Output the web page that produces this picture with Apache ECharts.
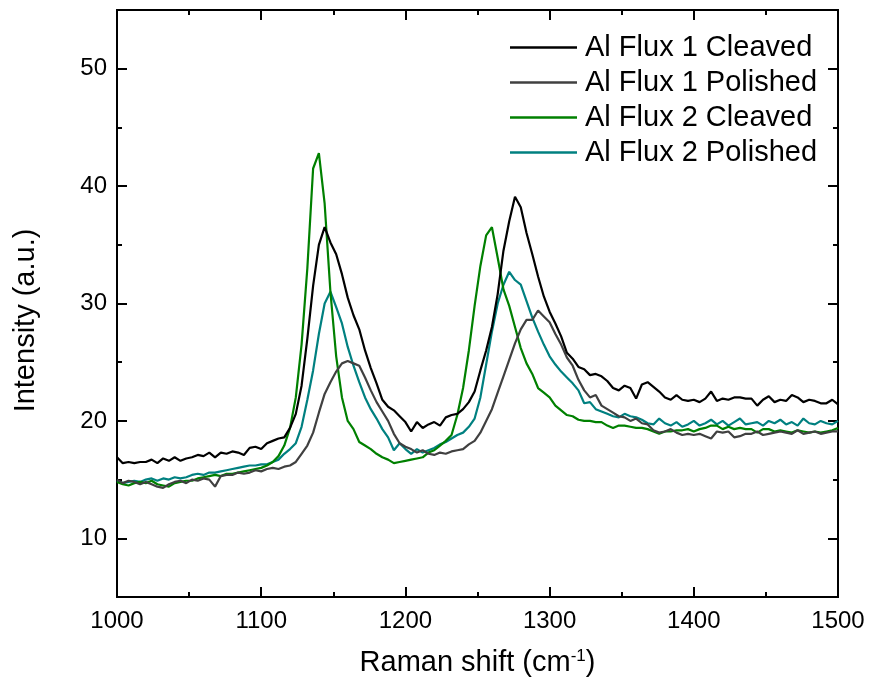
<!DOCTYPE html>
<html>
<head>
<meta charset="utf-8">
<script src="https://cdn.jsdelivr.net/npm/echarts@6/dist/echarts.min.js"></script>
<style>
  html, body { margin: 0; padding: 0; background: #fff; }
  #chart { width: 870px; height: 687px; }
</style>
</head>
<body>
<div id="chart"></div>
<script>
// Raman shift sampling positions (cm^-1)
const ramanShift = [
  1000, 1004, 1008, 1012, 1016, 1020, 1024, 1028, 1032, 1036,
  1040, 1044, 1048, 1052, 1056, 1060, 1064, 1068, 1072, 1076,
  1080, 1084, 1088, 1092, 1096, 1100, 1104, 1108, 1112, 1116,
  1120, 1124, 1128, 1132, 1136, 1140, 1144, 1148, 1152, 1156,
  1160, 1164, 1168, 1172, 1176, 1180, 1184, 1188, 1192, 1196,
  1200, 1204, 1208, 1212, 1216, 1220, 1224, 1228, 1232, 1236,
  1240, 1244, 1248, 1252, 1256, 1260, 1264, 1268, 1272, 1276,
  1280, 1284, 1288, 1292, 1296, 1300, 1304, 1308, 1312, 1316,
  1320, 1324, 1328, 1332, 1336, 1340, 1344, 1348, 1352, 1356,
  1360, 1364, 1368, 1372, 1376, 1380, 1384, 1388, 1392, 1396,
  1400, 1404, 1408, 1412, 1416, 1420, 1424, 1428, 1432, 1436,
  1440, 1444, 1448, 1452, 1456, 1460, 1464, 1468, 1472, 1476,
  1480, 1484, 1488, 1492, 1496, 1500
];

// Intensity (a.u.) for each sample
const flux1Cleaved = [
  16.9, 16.4, 16.5, 16.4, 16.5, 16.5, 16.7, 16.4, 16.8, 16.6,
  16.9, 16.6, 16.8, 16.9, 17.1, 17.0, 17.3, 16.9, 17.3, 17.2,
  17.4, 17.3, 17.1, 17.7, 17.8, 17.6, 18.1, 18.3, 18.5, 18.6,
  19.4, 20.6, 23.0, 27.0, 31.5, 35.0, 36.5, 35.2, 34.2, 32.5,
  30.5, 29.0, 27.8, 26.0, 24.5, 23.2, 21.8, 21.2, 20.9, 20.4,
  19.9, 19.1, 19.9, 19.4, 19.7, 19.9, 19.6, 20.3, 20.5, 20.6,
  21.0, 21.6, 22.5, 24.3, 26.0, 28.0, 30.8, 34.5, 37.0, 39.1,
  38.2, 36.0, 34.2, 32.3, 30.6, 29.3, 28.3, 27.2, 25.8, 25.3,
  24.6, 24.4, 23.9, 24.0, 23.8, 23.4, 22.8, 22.6, 23.0, 22.8,
  21.9, 23.1, 23.3, 22.9, 22.5, 22.0, 21.8, 22.2, 21.8, 21.7,
  21.8, 21.6, 21.9, 22.5, 21.7, 21.9, 21.8, 22.0, 22.0, 21.9,
  21.9, 21.3, 21.8, 22.1, 21.6, 21.8, 21.7, 22.2, 22.0, 21.6,
  21.8, 21.7, 21.5, 21.5, 21.8, 21.4
];

const flux1Polished = [
  15.0, 14.7, 14.9, 14.8, 14.6, 14.8, 14.6, 14.4, 14.3, 14.6,
  14.8, 14.9, 14.7, 15.0, 14.9, 15.1, 15.0, 14.4, 15.3, 15.4,
  15.4, 15.6, 15.5, 15.6, 15.8, 15.7, 15.9, 16.0, 15.9, 16.1,
  16.2, 16.5, 17.2, 17.9, 19.0, 20.7, 22.3, 23.3, 24.2, 24.9,
  25.1, 24.9, 24.7, 23.7, 22.6, 21.6, 20.8, 20.0, 18.9, 18.1,
  17.8, 17.6, 17.3, 17.5, 17.2, 17.1, 17.3, 17.2, 17.4, 17.5,
  17.6, 18.0, 18.3, 19.0, 20.0, 21.0, 22.4, 23.8, 25.2, 26.6,
  27.8, 28.6, 28.6, 29.4, 28.9, 28.4, 27.4, 26.5, 25.4, 24.7,
  23.5, 22.6, 22.0, 22.2, 21.3, 21.0, 20.7, 20.4, 20.3, 20.0,
  20.2, 19.8, 19.7, 19.2, 19.0, 19.1, 19.3, 19.0, 18.8, 18.9,
  18.8, 18.9, 18.7, 18.5, 19.1, 19.0, 19.1, 18.6, 18.7, 18.9,
  18.9, 19.1, 18.8, 18.9, 19.0, 19.1, 19.0, 18.9, 19.2, 18.9,
  19.0, 19.1, 18.9, 19.0, 19.1, 19.1
];

const flux2Cleaved = [
  14.8, 14.6, 14.5, 14.7, 14.8, 14.7, 14.9, 14.6, 14.5, 14.4,
  14.7, 14.8, 14.9, 14.9, 15.1, 15.2, 15.3, 15.4, 15.3, 15.5,
  15.5, 15.6, 15.7, 15.8, 15.9, 16.0, 16.2, 16.5, 17.0, 17.9,
  19.4, 22.0, 26.5, 33.0, 41.5, 42.8, 38.5, 31.0, 25.5, 22.0,
  20.0, 19.3, 18.2, 17.9, 17.6, 17.2, 16.9, 16.7, 16.4, 16.5,
  16.6, 16.7, 16.8, 16.9, 17.3, 17.5, 17.9, 18.3, 18.8, 20.5,
  22.8, 26.0, 29.8, 33.2, 35.8, 36.5, 33.9, 31.2, 29.8, 28.0,
  26.2, 24.9, 24.0, 22.8, 22.4, 22.0, 21.3, 20.9, 20.5, 20.4,
  20.1, 20.0, 20.0, 19.9, 19.9, 19.6, 19.4, 19.6, 19.6, 19.5,
  19.4, 19.4, 19.3, 19.1, 18.9, 19.1, 19.1, 19.2, 19.2, 19.3,
  19.1, 19.3, 19.4, 19.6, 19.6, 19.3, 19.5, 19.3, 19.4, 19.3,
  19.3, 19.0, 19.3, 19.3, 19.1, 19.2, 19.1, 19.0, 19.2, 19.1,
  19.0, 19.1, 19.0, 19.1, 19.2, 19.4
];

const flux2Polished = [
  14.9, 14.7, 14.8, 14.9, 14.8, 15.0, 15.1, 14.9, 15.1, 15.0,
  15.2, 15.1, 15.2, 15.4, 15.5, 15.4, 15.6, 15.6, 15.7, 15.8,
  15.9, 16.0, 16.1, 16.2, 16.2, 16.3, 16.3, 16.5, 16.7, 17.2,
  17.6, 18.1, 19.5, 21.8, 24.3, 27.4, 30.0, 31.0, 29.7, 28.3,
  26.3, 24.7, 23.3, 22.0, 21.0, 20.2, 19.3, 18.6, 17.5, 18.1,
  17.6, 17.2, 17.6, 17.3, 17.5, 17.7, 18.0, 18.2, 18.5, 18.8,
  19.0, 19.5, 20.2, 22.0, 24.8, 27.6, 30.0, 31.6, 32.7, 32.0,
  31.6, 30.2, 28.8, 27.6, 26.5, 25.5, 24.8, 24.2, 23.7, 23.2,
  22.6, 21.5, 21.6, 21.0, 20.8, 20.6, 20.4, 20.3, 20.6, 20.4,
  20.3, 20.1, 19.8, 19.7, 20.2, 19.8, 19.6, 19.9, 19.5, 19.7,
  20.0, 19.6, 19.8, 20.1, 19.7, 20.0, 19.6, 19.9, 20.2, 19.7,
  19.8, 19.9, 19.6, 20.0, 19.8, 20.1, 19.7, 19.9, 19.6, 20.2,
  19.8, 19.7, 20.0, 19.8, 19.7, 20.0
];

const seriesNames = ['Al Flux 1 Cleaved', 'Al Flux 1 Polished', 'Al Flux 2 Cleaved', 'Al Flux 2 Polished'];
const seriesValues = [flux1Cleaved, flux1Polished, flux2Cleaved, flux2Polished];
const seriesColors = ['#000000', '#404040', '#008000', '#008080'];

// Tick positions
const yMajorTicks = [10, 20, 30, 40, 50];
const yMinorTicks = [15, 25, 35, 45];

const FONT = 'Liberation Sans, Arial, sans-serif';

function pairs(values) {
  return values.map((v, i) => [ramanShift[i], v]);
}

function yAxisDef(position, values, len, withLabels) {
  return {
    type: 'value', min: 5, max: 55, position: position,
    axisLine: { show: true, lineStyle: { color: '#000', width: 2 } },
    axisTick: { show: true, inside: true, length: len, customValues: values,
                lineStyle: { color: '#000', width: 2 } },
    axisLabel: { show: withLabels, customValues: values, margin: 10,
                 fontFamily: FONT, fontSize: 24, color: '#000' },
    splitLine: { show: false }
  };
}

function xAxisDef(position, withLabels) {
  return {
    type: 'value', min: 1000, max: 1500, interval: 100, position: position,
    axisLine: { show: true, onZero: false, lineStyle: { color: '#000', width: 2 } },
    axisTick: { show: true, inside: true, length: 10, lineStyle: { color: '#000', width: 2 } },
    minorTick: { show: true, splitNumber: 2, length: 5, lineStyle: { color: '#000', width: 2 } },
    axisLabel: { show: withLabels, margin: 12, fontFamily: FONT, fontSize: 24, color: '#000',
                 formatter: v => String(v) },
    splitLine: { show: false }
  };
}

const xBottom = xAxisDef('bottom', true);
xBottom.name = 'Raman shift (cm{sup|-1})';
xBottom.nameLocation = 'middle';
xBottom.nameGap = 51;
xBottom.nameTextStyle = {
  fontFamily: FONT, fontSize: 29, color: '#000', verticalAlign: 'top',
  rich: { sup: { fontFamily: FONT, fontSize: 17, color: '#000', verticalAlign: 'top', padding: [0, 0, 13, 0] } }
};

const yLeft = yAxisDef('left', yMajorTicks, 10, true);
yLeft.name = 'Intensity (a.u.)';
yLeft.nameLocation = 'middle';
yLeft.nameGap = 77;
yLeft.nameTextStyle = { fontFamily: FONT, fontSize: 29, color: '#000', padding: [0, 34, 0, 0] };

const chart = echarts.init(document.getElementById('chart'), null, { renderer: 'canvas' });
chart.setOption({
  backgroundColor: '#fff',
  animation: false,
  grid: { left: 117, right: 32, top: 10, bottom: 90, containLabel: false },
  legend: {
    orient: 'vertical', left: 505, top: 28,
    itemWidth: 67, itemHeight: 2.5, itemGap: 6,
    icon: 'rect',
    textStyle: { fontFamily: FONT, fontSize: 29, color: '#000', padding: [0, 0, 0, 3] },
    data: seriesNames
  },
  xAxis: [xBottom, xAxisDef('top', false)],
  yAxis: [
    yLeft,
    yAxisDef('right', yMajorTicks, 10, false),
    yAxisDef('left', yMinorTicks, 5, false),
    yAxisDef('right', yMinorTicks, 5, false)
  ],
  series: seriesNames.map((name, k) => ({
    name: name, type: 'line', xAxisIndex: 0, yAxisIndex: 0,
    data: pairs(seriesValues[k]),
    showSymbol: false, symbol: 'none', smooth: false,
    lineStyle: { color: seriesColors[k], width: 2.2 },
    itemStyle: { color: seriesColors[k] },
    z: 2 + (3 - k)
  }))
});
</script>
</body>
</html>
